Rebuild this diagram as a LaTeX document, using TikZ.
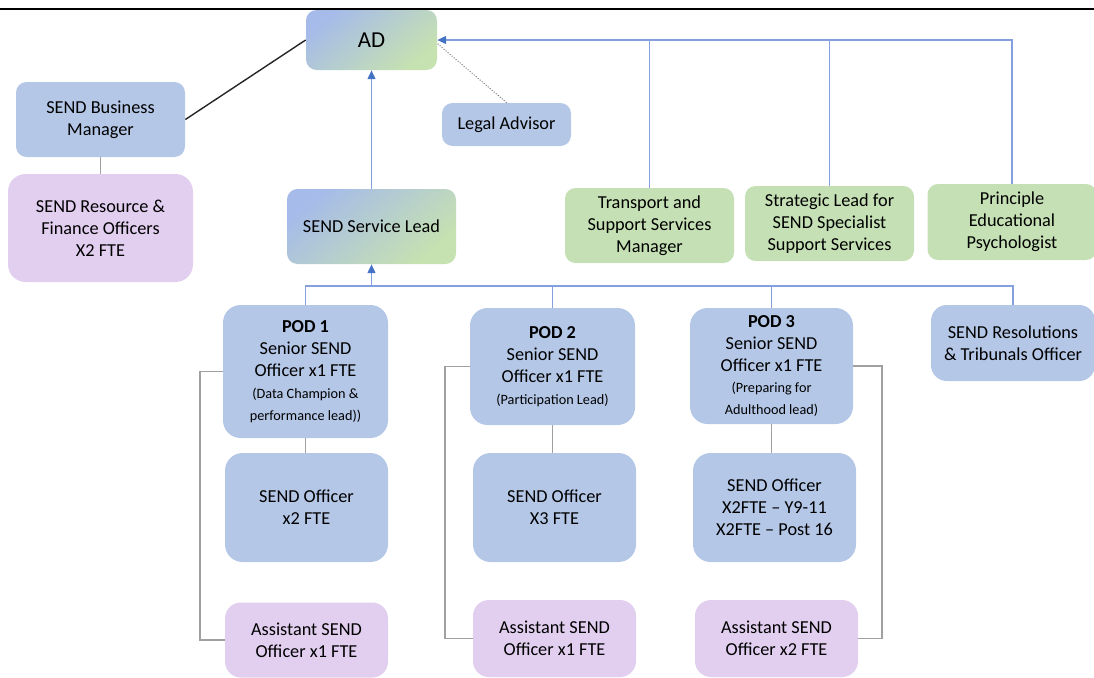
\documentclass[tikz,border=0pt]{standalone}
\usepackage{fontspec}
\setmainfont{Carlito}
\usetikzlibrary{arrows.meta}
\definecolor{boxblue}{RGB}{180,199,231}
\definecolor{boxgreen}{RGB}{197,224,180}
\definecolor{boxlilac}{RGB}{226,207,240}
\definecolor{gradblue}{RGB}{166,187,233}
\definecolor{gradgreen}{RGB}{198,226,176}
\definecolor{linkblue}{RGB}{132,160,222}
\definecolor{tipblue}{RGB}{68,114,196}
\definecolor{linkgray}{RGB}{160,160,160}
\newcommand{\smalltxt}{\fontsize{8.1}{10.2}\selectfont}
\tikzset{
  wh/.style 2 args={minimum width=#1*0.02cm,minimum height=#2*0.02cm},
  box/.style={rounded corners=6pt,align=center,inner sep=1pt,
    font=\fontsize{10.4}{12.5}\selectfont},
  bluebox/.style={box,fill=boxblue},
  greenbox/.style={box,fill=boxgreen},
  lilacbox/.style={box,fill=boxlilac},
  gradbox/.style={box,shading=axis,top color=gradblue,middle color=gradblue!70!gradgreen,
    bottom color=gradgreen,shading angle=40},
  podbox/.style={bluebox,rounded corners=10pt},
  blueline/.style={linkblue,line width=0.8pt},
  bluearrow/.style={blueline,-{Triangle[length=5pt,width=4.5pt,color=tipblue]}},
  grayline/.style={linkgray,line width=1pt}
}
\begin{document}
\begin{tikzpicture}[x=0.02cm,y=-0.02cm]
  \useasboundingbox (0,0) rectangle (1094,677);
  % rule along the top
  \draw[line width=1.6pt] (0,9) -- (1094,9);
  % top level
  \node[gradbox,wh={131}{60},font=\fontsize{13}{15}\selectfont] (AD) at (371.5,40) {AD};
  \node[bluebox,wh={169}{75}] (BM) at (100.5,119.5) {SEND Business\\Manager};
  \node[lilacbox,wh={185}{108},rounded corners=10pt] (RF) at (100.5,228) {SEND Resource \&\\Finance Officers\\X2 FTE};
  \node[bluebox,wh={129}{43}] (LA) at (506.5,124.5) {Legal Advisor};
  \node[gradbox,wh={169}{75}] (SL) at (371.5,226.5) {SEND Service Lead};
  \node[greenbox,wh={169}{75}] (TS) at (649.5,225.5) {Transport and\\Support Services\\Manager};
  \node[greenbox,wh={169}{75}] (SS) at (829.5,223.5) {Strategic Lead for\\SEND Specialist\\Support Services};
  \node[greenbox,wh={169}{76}] (EP) at (1012,222) {Principle\\Educational\\Psychologist};
  % pods
  \node[podbox,wh={165}{133}] (P1) at (305.5,371.5) {\textbf{POD 1}\\Senior SEND\\Officer x1 FTE\\{\smalltxt(Data Champion \&}\\{\smalltxt performance lead))}};
  \node[podbox,wh={165}{117}] (P2) at (552.5,366.5) {\textbf{POD 2}\\Senior SEND\\Officer x1 FTE\\{\smalltxt(Participation Lead)}};
  \node[podbox,wh={163}{116}] (P3) at (771.5,366) {\textbf{POD 3}\\Senior SEND\\Officer x1 FTE\\{\smalltxt(Preparing for}\\{\smalltxt Adulthood lead)}};
  \node[bluebox,wh={164}{76},rounded corners=9pt] (RT) at (1013,343) {SEND Resolutions\\\& Tribunals Officer};
  \node[podbox,wh={163}{109}] (O1) at (306.5,507.5) {SEND Officer\\x2 FTE};
  \node[podbox,wh={163}{109}] (O2) at (554.5,507.5) {SEND Officer\\X3 FTE};
  \node[podbox,wh={163}{109}] (O3) at (774.5,507.5) {SEND Officer\\X2FTE -- Y9-11\\X2FTE -- Post 16};
  \node[lilacbox,wh={163}{75},rounded corners=9pt] (A1) at (306.5,640) {Assistant SEND\\Officer x1 FTE};
  \node[lilacbox,wh={163}{77},rounded corners=9pt] (A2) at (554.5,638.5) {Assistant SEND\\Officer x1 FTE};
  \node[lilacbox,wh={163}{77},rounded corners=9pt] (A3) at (776.5,638.5) {Assistant SEND\\Officer x2 FTE};
  % links to AD
  \draw[line width=0.8pt,black!85] (AD.west) -- (BM.east);
  \draw[grayline] (BM.south) -- (RF.north);
  \draw[densely dotted,black!70,line width=0.5pt] (LA.north) -- ([yshift=-2]AD.east);
  \draw[bluearrow] (EP.north) |- (AD.east);
  \draw[blueline] (TS.north) -- (TS.north |- AD.east);
  \draw[blueline] (SS.north) -- (SS.north |- AD.east);
  \draw[bluearrow] (SL.north) -- (AD.south);
  % links to service lead
  \coordinate (bus) at (0,286);
  \draw[blueline] (P1.north) -- (P1.north |- bus) -- (RT.north |- bus) -- (RT.north);
  \draw[blueline] (P2.north) -- (P2.north |- bus);
  \draw[blueline] (P3.north) -- (P3.north |- bus);
  \draw[bluearrow] (SL.south |- bus) -- (SL.south);
  % pod links
  \draw[grayline] (P1.south) -- (P1.south |- O1.north);
  \draw[grayline] (P2.south) -- (P2.south |- O2.north);
  \draw[grayline] (P3.south) -- (P3.south |- O3.north);
  \draw[grayline] (P1.west) -- ++(-23,0) |- (A1.west);
  \draw[grayline] (P2.west) -- ++(-25,0) |- (A2.west);
  \draw[grayline] (P3.east) -- ++(29,0) |- (A3.east);
\end{tikzpicture}
\end{document}
